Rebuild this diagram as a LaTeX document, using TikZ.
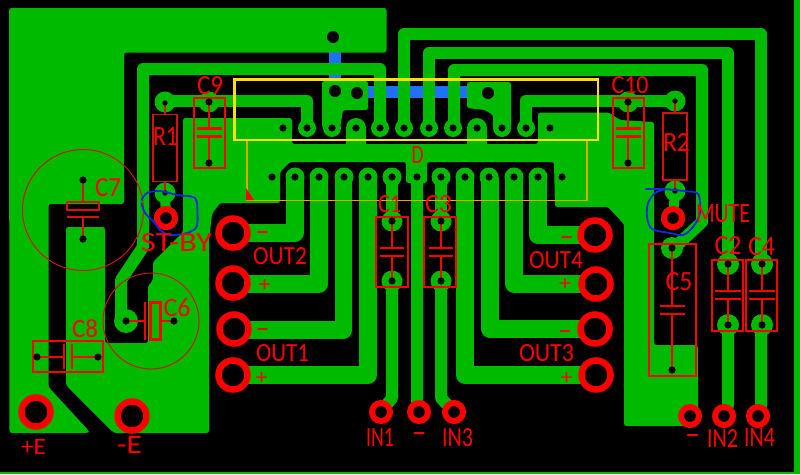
\documentclass[tikz,border=0pt]{standalone}
\usepackage{fontspec}
\usepackage{graphicx}
\setmainfont{Carlito}
\definecolor{cu}{HTML}{00BA00}
\definecolor{via}{HTML}{2070F8}
\definecolor{pr}{HTML}{FF0000}
\definecolor{dr}{HTML}{D81010}
\definecolor{yo}{HTML}{FFE000}
\definecolor{ya}{HTML}{E0A800}
\definecolor{pen}{HTML}{1028E0}
\tikzset{
  trace/.style={draw=cu,line width=#1,line join=round,line cap=butt},
  trace/.default=12pt,
  pour/.style={fill=cu,rounded corners=2.5pt},
  ring/.style={draw=pr,fill=black,line width=6.5pt},
  ringsm/.style={draw=pr,fill=black,line width=6pt},
  comp/.style={draw=pr,line width=2.6pt},
  compthin/.style={draw=dr,line width=1.5pt},
  pencil/.style={draw=pen,line width=1.8pt,line cap=round},
  lbl/.style={text=pr,inner sep=0pt,outer sep=0pt},
}
\newcommand{\lab}[6]{\node[lbl] (#1) at (#2,#3) {\resizebox{#4pt}{#5pt}{#6}};}
\newcommand{\signl}[4]{\node[lbl,anchor=north] (#1) at (#2,#3) {\resizebox{#4pt}{9pt}{-}};}
\newcommand{\plusl}[4]{\node[lbl] (#1) at (#2,#3) {\resizebox{#4pt}{#4pt}{+}};}
\newcommand{\capv}[7]{%
  \draw[comp] (#1,#2) -- (#1,#3) (#1,#4) -- (#1,#5);
  \draw[comp] (#1-#6,#3) -- (#1+#6,#3) (#1-#6,#4) -- (#1+#6,#4);
  \draw[comp] #7;}
\begin{document}
\begin{tikzpicture}[x=1pt,y=-1pt]
\useasboundingbox (0,0) rectangle (800,474);
\fill[black] (0,0) rectangle (800,474);
% board edge
\fill[cu] (0,471.5) rectangle (800,474);
\fill[cu] (794,0) rectangle (800,474);
% vias on the other side
\fill[via] (329,40) rectangle (341,90);
\fill[via] (360,86) rectangle (472,98);
% large pour top left
\path[pour] (9,8) -- (386.5,8) -- (386.5,52.5) -- (124,52.5) -- (124,204) -- (48.5,204) -- (48.5,387) -- (89,431) -- (88,433) -- (9.5,433) -- cycle;
% ground pour
\path[pour] (183,118) -- (292,118) -- (292,144) -- (538,144) -- (538,112.5) -- (609,112.5) -- (620,120) -- (654,122) -- (654,345) -- (698,345) -- (698,426) -- (624,426) -- (624,224) -- (608,207) -- (555,207) -- (554,162) -- (427,162) -- (427,183) -- (406,183) -- (406,162) -- (290,162) -- (280,172) -- (280,203) -- (220,203) -- (212,214) -- (209,240) -- (209,433) -- (114,433) -- (66,385) -- (66,227) -- (105,227) -- (105,343) -- (148,343) -- (148,286) -- (153,280) -- (153,262) -- (183,232) -- cycle;
% top row islands
\path[pour] (322,81) -- (368,81) -- (368,110) -- (343,110) -- (340,128) -- (322,128) -- cycle;
\path[pour] (467,82) -- (511,82) -- (511,128) -- (493,128) -- (493,115) -- (485,110) -- (467,108) -- cycle;
% bumps from the pour into two pins
\foreach \bx in {356,477} {
  \fill[cu] (\bx-10,128) rectangle (\bx+10,146);
  \fill[cu] (\bx,128) circle[radius=10pt];
}
% top row pins
\foreach \px in {307,332,380,404,429,453,502,526} \fill[cu] (\px,128) circle[radius=9pt];
% bottom row pins
\foreach \px in {295,319,344,368,392,441,465,489,514,538} \fill[cu] (\px,177) circle[radius=9.5pt];
% output traces
\draw[trace=17.5pt] (295,177) -- (295,233) -- (232,233);
\draw[trace=17.5pt] (319,177) -- (319,284) -- (232,284);
\draw[trace=17.5pt] (343.5,177) -- (343.5,330) -- (232,330);
\draw[trace=18pt] (368,177) -- (368,375) -- (232,375);
\draw[trace=17.5pt] (538,177) -- (538,235) -- (595,235);
\draw[trace=17.5pt] (514,177) -- (514,284) -- (595,284);
\draw[trace=17.5pt] (490,177) -- (490,329) -- (595,329);
\draw[trace=18pt] (465,177) -- (465,375) -- (595,375);
% input traces
\draw[trace] (392,177) -- (392,221);
\draw[trace] (392,281) -- (392,398) -- (381,412);
\draw[trace] (441,177) -- (441,221);
\draw[trace] (441,281) -- (441,398) -- (454,412);
\draw[trace] (417,177) -- (417,400) -- (419,412);
% long top traces
\draw[trace] (404,128) -- (404,34) -- (761,34) -- (761,264);
\draw[trace] (761,325) -- (761,405) -- (758,416);
\draw[trace] (429,128) -- (429,53) -- (728,53) -- (728,264);
\draw[trace] (728,325) -- (728,405) -- (724,416);
\draw[trace] (454,128) -- (454,70) -- (702,70) -- (702,222) -- (672,250);
\draw[trace] (380,128) -- (380,69) -- (143,69) -- (143,247) -- (121,280) -- (121,321);
\draw[trace] (307,128) -- (307,101) -- (165,101);
\draw[trace] (526,128) -- (526,100.5) -- (675,100.5);
% component pads
\foreach \ax/\ay/\ar in {165/102/10.5,209/102/10.5,628/102/10.5,675/101/10.5,165/193/10.5,675/191/10.5,
  126/321/12,392/221/10.5,392/281/10.5,441/221/10.5,441/281/10.5,
  728/264/11,728/325/11,762/264/11,762/325/11,672/248/11,166/218/12,673/218/12}
  \fill[cu] (\ax,\ay) circle[radius=\ar pt];
\draw[trace=10pt] (165,193) -- (166,218);
\draw[trace=10pt] (675,191) -- (673,218);
% IC outlines
\draw[draw=ya,line width=1.8pt] (247,140) -- (247,200.5) -- (587,200.5) -- (587,140);
\fill[pr] (246,188) -- (254,200) -- (246,200) -- cycle;
\draw[draw=yo,line width=2.2pt] (234.5,79.5) rectangle (598,140);
% resistors
\draw[compthin] (165,102) -- (165,114) (165,182) -- (165,193);
\draw[compthin] (153,114.5) rectangle (177,181.5);
\draw[compthin] (675,101) -- (675,113) (675,180) -- (675,191);
\draw[compthin] (663,113) rectangle (687,180);
% capacitors
\capv{209}{102}{128.5}{136.5}{163}{12.5}{(194,98) rectangle (225,168)}
\capv{628}{102}{128.5}{136.5}{163}{12.5}{(613,98) rectangle (644,168)}
\capv{392}{221}{248}{256}{281}{12}{(376,217) rectangle (408,287)}
\capv{441}{221}{248}{256}{281}{12}{(424,217) rectangle (456,287)}
\capv{728}{264}{291}{299}{325}{13}{(712,260) rectangle (743,331)}
\capv{762}{264}{291}{299}{325}{13}{(746,260) rectangle (777,331)}
\capv{672}{248}{306}{314}{370}{12.5}{(649,244) rectangle (696,376)}
% C8
\draw[comp] (37,357) -- (64,357) (64,344) -- (64,369) (72,344) -- (72,369) (72,357) -- (98,357);
\draw[comp] (33,341) rectangle (103,372);
% C7
\draw[compthin] (83,180) -- (83,202) (83,217) -- (83,239) (67,217) -- (99,217);
\draw[compthin] (67,202) rectangle (99,210);
\draw[draw=dr,line width=1pt] (83,210) circle[radius=60.5pt];
% C6
\draw[comp] (126,321) -- (145,321) (145,302) -- (145,340) (161,321) -- (174,321);
\draw[comp] (150.5,302.5) rectangle (160.5,339.5);
\draw[draw=dr,line width=1pt] (151,321) circle[radius=48pt];
% drills
\foreach \px in {283,307,332,356,380,404,429,453,477,502,526,550} \fill[black] (\px,128) circle[radius=3.6pt];
\foreach \px in {272,295,319,344,368,392,417,441,465,489,514,538,562} \fill[black] (\px,177) circle[radius=3.6pt];
\foreach \ax/\ay in {209/102,209/163,628/102,628/163,83/180,83/239,126/321,174/321,37/357,98/357,
  392/221,392/281,441/221,441/281,728/264,728/325,762/264,762/325,672/248,672/370}
  \fill[black] (\ax,\ay) circle[radius=3.6pt];
\foreach \ax/\ay in {165/103,675/101,165/193,675/191} \fill[black] (\ax,\ay) circle[radius=2.7pt];
\foreach \ax/\ay in {333/37,335/91,357/93,488/93} \fill[black] (\ax,\ay) circle[radius=6pt];
% terminals
\foreach \ax/\ay in {233/233,233/283,234/329,233/375,595/235,596/284,595/329,596/375,36/412,132/416}
  \draw[ring] (\ax,\ay) circle[radius=14.5pt];
\foreach \ax/\ay in {381/412,419/412,454/412,690/416,724/416,758/416,166/218,673/218}
  \draw[ringsm] (\ax,\ay) circle[radius=9pt];
% pen marks
\draw[pencil] plot[smooth] coordinates {(141.5,200) (147,193) (160,191) (177,195) (195,198) (197.5,213) (196.5,227) (187,233) (170,235) (160,230) (155,223) (145,213) (141.5,203)};
\draw[pencil] plot[smooth] coordinates {(646,189) (663,189) (683,191) (698,194) (700,213) (693,227) (683,235) (670,233) (652,229) (647,217) (648,203) (655,193) (663,190)};
% labels
\lab{tC9}{210}{86}{26}{18}{C9}
\lab{tRa}{165.5}{136}{25}{18}{R1}
\lab{tC7}{108}{188}{26}{18}{C7}
\lab{tST}{176.5}{243}{71}{18}{ST-BY}
\lab{tC8}{85}{329}{26}{18}{C8}
\lab{tC6}{177}{308}{27}{18}{C6}
\lab{tPE}{33.5}{446.5}{25}{15}{+E}
\lab{tME}{129.5}{445}{25}{17}{-E}
\lab{tOb}{280}{256.5}{54}{17}{OUT2}
\lab{tOa}{282.5}{353}{53}{17}{OUT1}
\lab{tOd}{556}{260}{54}{17}{OUT4}
\lab{tOc}{546.5}{353.5}{55}{17}{OUT3}
\lab{tD}{417.5}{154.5}{12}{17}{D}
\lab{tCa}{389.5}{204.5}{23}{17}{C1}
\lab{tCc}{438.5}{204.5}{27}{17}{C3}
\lab{tCj}{630}{85.5}{37}{17}{C10}
\lab{tRb}{676.5}{142}{27}{18}{R2}
\lab{tMU}{723}{214}{54}{18}{MUTE}
\lab{tC5}{679}{282}{27}{18}{C5}
\lab{tC2}{728}{246}{27}{18}{C2}
\lab{tC4}{761.5}{247}{27}{18}{C4}
\lab{tIa}{380}{437}{28}{18}{IN1}
\lab{tIc}{457.5}{438}{31}{18}{IN3}
\lab{tIb}{722.5}{438}{31}{18}{IN2}
\lab{tId}{759.5}{437}{31}{18}{IN4}
% signs
\signl{mA}{262.5}{231}{13}
\signl{mB}{262.5}{328}{13}
\signl{mC}{566.5}{236}{13}
\signl{mD}{565}{330}{13}
\signl{mE}{419}{432}{14}
\signl{mF}{692.5}{434}{14}
\plusl{pA}{264.5}{285}{12}{}
\plusl{pB}{261.5}{378}{12}{}
\plusl{pC}{565}{284}{12}{}
\plusl{pD}{566.5}{378}{12}{}
\end{tikzpicture}
\end{document}
